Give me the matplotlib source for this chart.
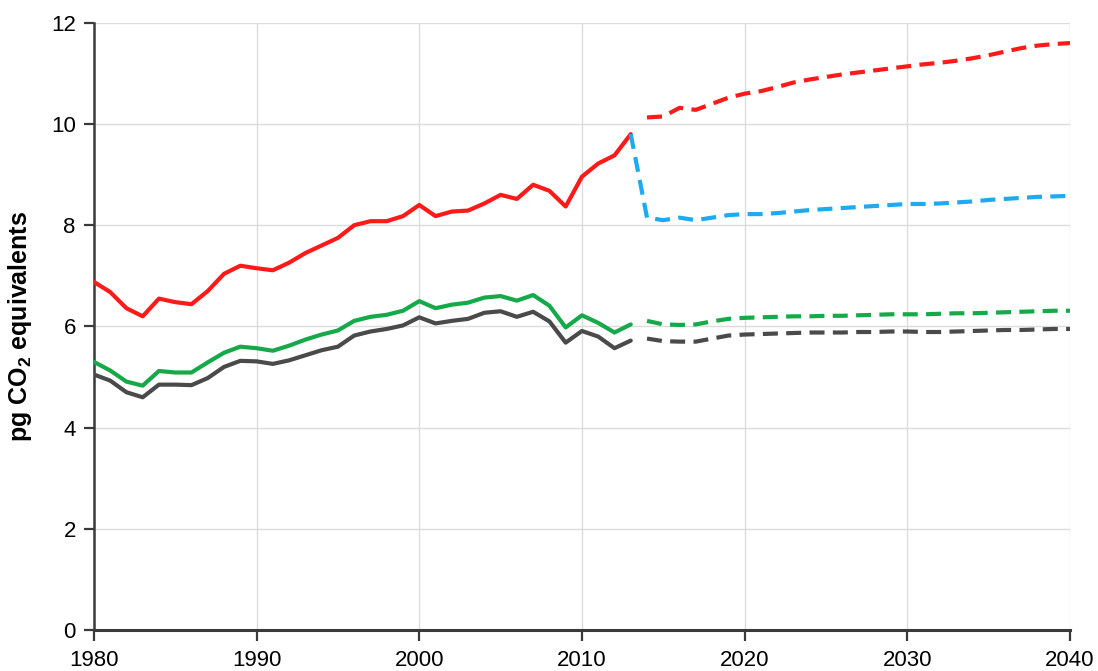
import matplotlib
matplotlib.use("Agg")
import matplotlib.pyplot as plt
import numpy as np

plt.rcParams['font.family'] = ['Liberation Sans', 'DejaVu Sans']
plt.rcParams['mathtext.fontset'] = 'custom'
plt.rcParams['mathtext.rm'] = 'Liberation Sans'
plt.rcParams['mathtext.bf'] = 'Liberation Sans:bold'

# Historical data (1980-2013)
hist_years = list(range(1980, 2014))
red_hist = [6.88, 6.68, 6.36, 6.20, 6.55, 6.48, 6.44, 6.70, 7.04, 7.20,
            7.15, 7.11, 7.26, 7.45, 7.60, 7.75, 8.00, 8.08, 8.08, 8.18,
            8.40, 8.18, 8.27, 8.29, 8.43, 8.60, 8.52, 8.80, 8.68, 8.37,
            8.96, 9.22, 9.38, 9.80]
green_hist = [5.30, 5.13, 4.91, 4.83, 5.12, 5.09, 5.09, 5.29, 5.48, 5.60,
              5.57, 5.52, 5.62, 5.74, 5.84, 5.92, 6.11, 6.19, 6.23, 6.31,
              6.50, 6.36, 6.43, 6.47, 6.57, 6.60, 6.51, 6.62, 6.41, 5.98,
              6.22, 6.07, 5.88, 6.04]
gray_hist = [5.05, 4.93, 4.70, 4.60, 4.85, 4.85, 4.84, 4.98, 5.20, 5.32,
             5.31, 5.26, 5.33, 5.43, 5.53, 5.60, 5.82, 5.90, 5.95, 6.02,
             6.18, 6.06, 6.11, 6.15, 6.27, 6.30, 6.19, 6.29, 6.10, 5.68,
             5.91, 5.80, 5.57, 5.72]

# Projections (2014-2040)
proj_years = list(range(2014, 2041))
red_proj = [10.13, 10.15, 10.32, 10.28, 10.40, 10.52, 10.60, 10.65, 10.73,
            10.82, 10.88, 10.93, 10.98, 11.02, 11.06, 11.10, 11.14, 11.18,
            11.21, 11.25, 11.30, 11.36, 11.43, 11.50, 11.55, 11.58, 11.60]
blue_years = list(range(2013, 2041))
blue_proj = [9.80, 8.15, 8.10, 8.15, 8.10, 8.15, 8.20, 8.22, 8.22, 8.24,
             8.27, 8.30, 8.32, 8.34, 8.36, 8.38, 8.40, 8.42, 8.42, 8.43,
             8.45, 8.47, 8.50, 8.52, 8.54, 8.56, 8.57, 8.58]
green_proj = [6.11, 6.04, 6.03, 6.04, 6.10, 6.15, 6.17, 6.18, 6.19, 6.20,
              6.20, 6.21, 6.21, 6.22, 6.23, 6.24, 6.24, 6.24, 6.25, 6.26,
              6.26, 6.27, 6.28, 6.29, 6.30, 6.31, 6.31]
gray_proj = [5.76, 5.71, 5.70, 5.70, 5.76, 5.82, 5.84, 5.85, 5.86, 5.87,
             5.88, 5.88, 5.88, 5.89, 5.89, 5.90, 5.90, 5.89, 5.89, 5.90,
             5.91, 5.92, 5.93, 5.93, 5.94, 5.95, 5.95]

x_ticks = [1980, 1990, 2000, 2010, 2020, 2030, 2040]
y_ticks = [0, 2, 4, 6, 8, 10, 12]

RED = '#ff1a1a'
GREEN = '#16a94a'
GRAY = '#4a4a4a'
BLUE = '#1eaaf0'

fig = plt.figure(figsize=(10.98, 6.71), dpi=100)
ax = fig.add_axes([0.0855, 0.061, 0.889, 0.905])

lw = 3.0
dash = (3.6, 2.0)
common = dict(lw=lw, solid_joinstyle='round', solid_capstyle='round',
              dash_joinstyle='round', zorder=3)
ax.plot(hist_years, red_hist, color=RED, **common)
ax.plot(hist_years, green_hist, color=GREEN, **common)
ax.plot(hist_years, gray_hist, color=GRAY, **common)
ax.plot(proj_years, red_proj, color=RED, dashes=dash, **common)
ax.plot(blue_years, blue_proj, color=BLUE, dashes=dash, **common)
ax.plot(proj_years, green_proj, color=GREEN, dashes=dash, **common)
ax.plot(proj_years, gray_proj, color=GRAY, dashes=dash, **common)

ax.set_xlim(1980, 2040)
ax.set_ylim(0, 12)
ax.set_xticks(x_ticks)
ax.set_yticks(y_ticks)
ax.grid(True, color='#dcdcdc', lw=1.0, zorder=0)
ax.set_axisbelow(True)

for s in ['top', 'right']:
    ax.spines[s].set_visible(False)
ax.spines['left'].set_color('#3a3a3a')
ax.spines['left'].set_linewidth(1.8)
ax.spines['bottom'].set_color('#3a3a3a')
ax.spines['bottom'].set_linewidth(2.2)

ax.tick_params(axis='both', colors='#3a3a3a', labelcolor='black', labelsize=16,
               width=1.6)
ax.tick_params(axis='y', length=7, pad=6)
ax.tick_params(axis='x', length=8, pad=6)

ax.set_ylabel(r'pg CO$_\mathbf{2}$ equivalents', fontsize=18, fontweight='bold',
              labelpad=12)

fig.savefig('out.png', dpi=100)
